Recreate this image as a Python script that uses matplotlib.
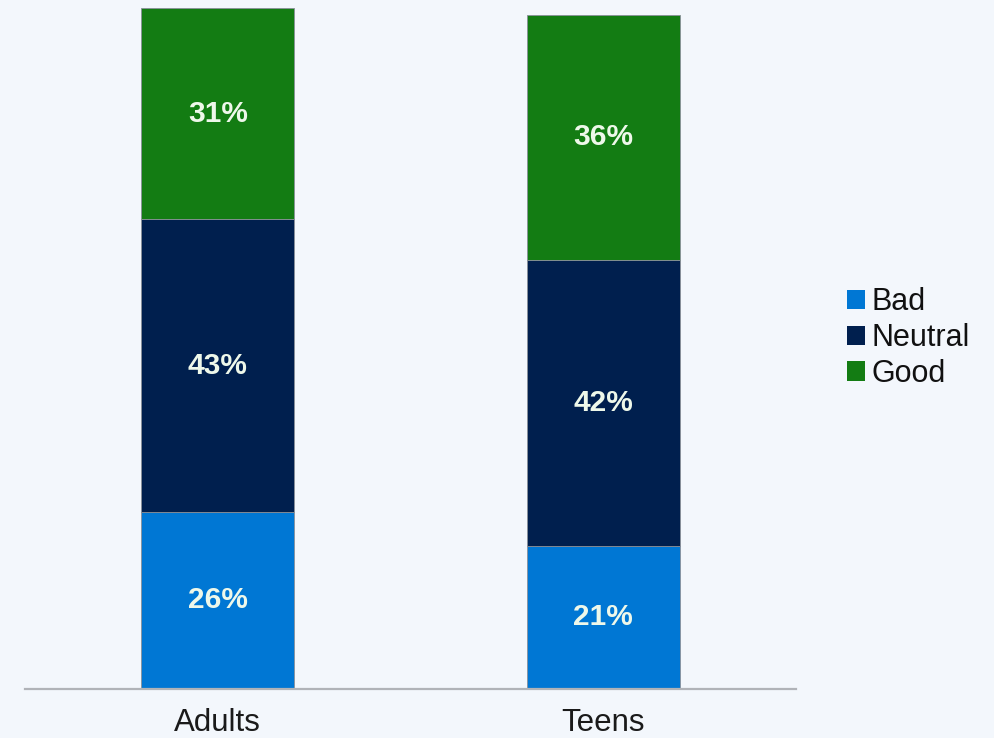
import matplotlib.pyplot as plt
from matplotlib.patches import Patch

plt.rcParams["font.family"] = ["Liberation Sans", "DejaVu Sans"]

GROUPS = ["Adults", "Teens"]
SERIES = ["Bad", "Neutral", "Good"]
BAD = [26, 21]
NEUTRAL = [43, 42]
GOOD = [31, 36]

COLORS = {"Bad": "#0077D4", "Neutral": "#001F4E", "Good": "#137C13"}
BG = "#F3F7FC"


def main() -> None:
    fig = plt.figure(figsize=(9.95, 7.38), dpi=100, facecolor=BG)
    ax = fig.add_axes([0.0251, 0.0664, 0.7749, 0.9228], facecolor=BG)

    x = list(range(len(GROUPS)))
    width = 0.396
    bottom = [0.0] * len(GROUPS)
    for name, vals in zip(SERIES, [BAD, NEUTRAL, GOOD]):
        bars = ax.bar(x, vals, width=width, bottom=bottom, color=COLORS[name],
                      edgecolor="#8a9099", linewidth=0.6, zorder=2)
        for bar, v, b in zip(bars, vals, bottom):
            ax.text(bar.get_x() + bar.get_width() / 2, b + v / 2, f"{v}%",
                    ha="center", va="center", color="#eef8ea", fontsize=21.5,
                    fontweight="bold", zorder=3)
        bottom = [b + v for b, v in zip(bottom, vals)]

    ax.set_xlim(-0.5, 1.5)
    ax.set_ylim(0, 100)
    ax.set_yticks([])
    ax.set_xticks(x)
    ax.set_xticklabels(GROUPS, fontsize=22.5, color="#1a1a1a")
    ax.tick_params(axis="x", length=0, pad=14)
    for side in ["top", "right", "left"]:
        ax.spines[side].set_visible(False)
    ax.spines["bottom"].set_color("#b0b3b8")
    ax.spines["bottom"].set_linewidth(1.6)
    ax.spines["bottom"].set_zorder(4)

    handles = [Patch(facecolor=COLORS[s], edgecolor="none", label=s) for s in SERIES]
    fig.legend(handles=handles, loc="center left", bbox_to_anchor=(0.836, 0.542),
               frameon=False, fontsize=22, handlelength=0.6, handleheight=0.6,
               handletextpad=0.2, labelspacing=0.19, borderpad=0, labelcolor="#111111")

    fig.savefig("out.png", dpi=100, facecolor=BG)
    plt.close(fig)


if __name__ == "__main__":
    main()
